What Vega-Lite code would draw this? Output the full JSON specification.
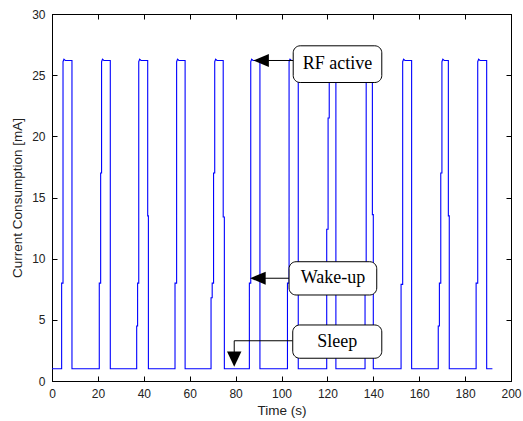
{
  "$schema": "https://vega.github.io/schema/vega-lite/v6.json",
  "width": 459,
  "height": 367,
  "autosize": "none",
  "padding": {"left": 52, "top": 14, "right": 12, "bottom": 40},
  "background": "white",
  "config": {
    "view": {"stroke": "black", "strokeWidth": 1},
    "axis": {
      "labelFont": "Liberation Sans",
      "labelFontSize": 12,
      "labelColor": "#222",
      "titleFont": "Liberation Sans",
      "titleFontSize": 13.5,
      "titleFontWeight": "normal",
      "titleColor": "#222",
      "domainColor": "black",
      "tickColor": "black",
      "tickSize": -5,
      "grid": false
    }
  },
  "datasets": {
    "signal": [
      {"t":0,"i":1},
      {"t":4.2,"i":1},{"t":4.2,"i":8},{"t":4.8,"i":8},{"t":4.8,"i":26.1},{"t":5.2,"i":26.3},{"t":5.8,"i":26.2},{"t":8.7,"i":26.2},{"t":8.7,"i":1},
      {"t":20.6,"i":1},{"t":20.6,"i":8},{"t":21.2,"i":8},{"t":21.2,"i":17},{"t":21.6,"i":17},{"t":21.6,"i":26.1},{"t":22.0,"i":26.3},{"t":22.6,"i":26.2},{"t":25.4,"i":26.2},{"t":25.4,"i":1},
      {"t":36.9,"i":1},{"t":36.9,"i":4.5},{"t":37.3,"i":4.5},{"t":37.3,"i":8},{"t":37.8,"i":8},{"t":37.8,"i":26.1},{"t":38.2,"i":26.3},{"t":38.8,"i":26.2},{"t":41.7,"i":26.2},{"t":41.7,"i":13.5},{"t":42.0,"i":13.5},{"t":42.0,"i":1},
      {"t":53.6,"i":1},{"t":53.6,"i":8},{"t":54.3,"i":8},{"t":54.3,"i":26.1},{"t":54.7,"i":26.3},{"t":55.3,"i":26.2},{"t":58.0,"i":26.2},{"t":58.0,"i":1},
      {"t":69.3,"i":1},{"t":69.3,"i":6.8},{"t":69.8,"i":6.8},{"t":69.8,"i":8},{"t":70.4,"i":8},{"t":70.4,"i":17},{"t":70.9,"i":17},{"t":70.9,"i":26.1},{"t":71.3,"i":26.3},{"t":71.9,"i":26.2},{"t":74.6,"i":26.2},{"t":74.6,"i":13.4},{"t":75.1,"i":13.4},{"t":75.1,"i":1},
      {"t":86.0,"i":1},{"t":86.0,"i":8},{"t":86.6,"i":8},{"t":86.6,"i":26.1},{"t":87.0,"i":26.3},{"t":87.6,"i":26.2},{"t":90.6,"i":26.2},{"t":90.6,"i":1},
      {"t":102.6,"i":1},{"t":102.6,"i":8},{"t":103.3,"i":8},{"t":103.3,"i":26.1},{"t":103.7,"i":26.3},{"t":104.3,"i":26.2},{"t":107.3,"i":26.2},{"t":107.3,"i":1},
      {"t":119.7,"i":1},{"t":119.7,"i":12.4},{"t":120.3,"i":12.4},{"t":120.3,"i":21.5},{"t":120.8,"i":21.5},{"t":120.8,"i":26.1},{"t":121.2,"i":26.3},{"t":121.8,"i":26.2},{"t":123.7,"i":26.2},{"t":123.7,"i":1},
      {"t":136.4,"i":1},{"t":136.4,"i":8},{"t":136.9,"i":8},{"t":136.9,"i":26.1},{"t":137.3,"i":26.3},{"t":137.9,"i":26.2},{"t":139.6,"i":26.2},{"t":139.6,"i":13.6},{"t":140.0,"i":13.6},{"t":140.0,"i":1},
      {"t":152.1,"i":1},{"t":152.1,"i":7.9},{"t":152.8,"i":7.9},{"t":152.8,"i":26.1},{"t":153.2,"i":26.3},{"t":153.8,"i":26.2},{"t":156.7,"i":26.2},{"t":156.7,"i":1},
      {"t":168.3,"i":1},{"t":168.3,"i":4.5},{"t":168.8,"i":4.5},{"t":168.8,"i":8},{"t":169.4,"i":8},{"t":169.4,"i":17},{"t":169.9,"i":17},{"t":169.9,"i":26.1},{"t":170.3,"i":26.3},{"t":170.9,"i":26.2},{"t":172.7,"i":26.2},{"t":172.7,"i":13.5},{"t":173.1,"i":13.5},{"t":173.1,"i":1},
      {"t":184.8,"i":1},{"t":184.8,"i":8},{"t":185.5,"i":8},{"t":185.5,"i":26.1},{"t":185.9,"i":26.3},{"t":186.5,"i":26.2},{"t":189.4,"i":26.2},{"t":189.4,"i":1},
      {"t":191.9,"i":1}
    ],
    "boxes": [
      {"label":"RF active","x":105.1,"x2":143.7,"y":24.4,"y2":27.4,"xc":124.4,"yc":25.9},
      {"label":"Wake-up","x":103.3,"x2":141.5,"y":7.03,"y2":9.75,"xc":122.4,"yc":8.4},
      {"label":"Sleep","x":104.9,"x2":143.7,"y":1.86,"y2":4.58,"xc":124.3,"yc":3.2}
    ],
    "arrows": [
      {"x":105.1,"x2":92.0,"y":26.2,"y2":26.2},
      {"x":103.3,"x2":91.0,"y":8.4,"y2":8.4},
      {"x":104.9,"x2":79.4,"y":3.29,"y2":3.29},
      {"x":79.4,"x2":79.4,"y":3.29,"y2":2.2}
    ],
    "heads": [
      {"x":87.7,"y":26.2,"dir":"left"},
      {"x":86.3,"y":8.4,"dir":"left"},
      {"x":79.4,"y":1.17,"dir":"down"}
    ]
  },
  "resolve": {"axis": {"x": "independent", "y": "independent"}},
  "layer": [
    {
      "data": {"name": "signal"},
      "mark": {"type": "line", "color": "#0000ff", "strokeWidth": 1.1, "clip": true},
      "encoding": {
        "x": {"field": "t", "type": "quantitative",
              "scale": {"domain": [0, 200], "nice": false, "zero": false},
              "axis": {"values": [0,20,40,60,80,100,120,140,160,180,200], "title": "Time (s)", "labelPadding": 12, "titlePadding": 4, "labelFlush": false}},
        "y": {"field": "i", "type": "quantitative",
              "scale": {"domain": [0, 30], "nice": false},
              "axis": {"values": [0,5,10,15,20,25,30], "title": "Current Consumption [mA]", "labelPadding": 12, "titlePadding": 7, "labelFlush": false}},
        "order": {"value": null}
      }
    },
    {
      "data": {"name": "arrows"},
      "mark": {"type": "rule", "color": "black", "strokeWidth": 1},
      "encoding": {
        "x": {"field": "x", "type": "quantitative", "axis": {"orient": "top", "labels": false, "title": null, "values": [0,20,40,60,80,100,120,140,160,180,200]}},
        "x2": {"field": "x2"},
        "y": {"field": "y", "type": "quantitative", "axis": {"orient": "right", "labels": false, "title": null, "values": [0,5,10,15,20,25,30]}},
        "y2": {"field": "y2"}
      }
    },
    {
      "data": {"name": "heads"},
      "mark": {"type": "point", "filled": true, "color": "black", "opacity": 1, "size": 256, "strokeWidth": 0},
      "encoding": {
        "x": {"field": "x", "type": "quantitative", "axis": null},
        "y": {"field": "y", "type": "quantitative", "axis": null},
        "shape": {"field": "dir", "type": "nominal", "legend": null,
                  "scale": {"domain": ["left", "down"], "range": ["M0,0L1.95,-0.8L1.95,0.8Z", "M0,0L-0.9,-1.9L0.9,-1.9Z"]}}
      }
    },
    {
      "data": {"name": "boxes"},
      "mark": {"type": "rect", "fill": "white", "stroke": "black", "strokeWidth": 1, "cornerRadius": 7},
      "encoding": {
        "x": {"field": "x", "type": "quantitative", "axis": null},
        "x2": {"field": "x2"},
        "y": {"field": "y", "type": "quantitative", "axis": null},
        "y2": {"field": "y2"}
      }
    },
    {
      "data": {"name": "boxes"},
      "mark": {"type": "text", "font": "Liberation Serif", "fontSize": 18, "color": "black", "align": "center", "baseline": "middle"},
      "encoding": {
        "x": {"field": "xc", "type": "quantitative", "axis": null},
        "y": {"field": "yc", "type": "quantitative", "axis": null},
        "text": {"field": "label"}
      }
    }
  ]
}
